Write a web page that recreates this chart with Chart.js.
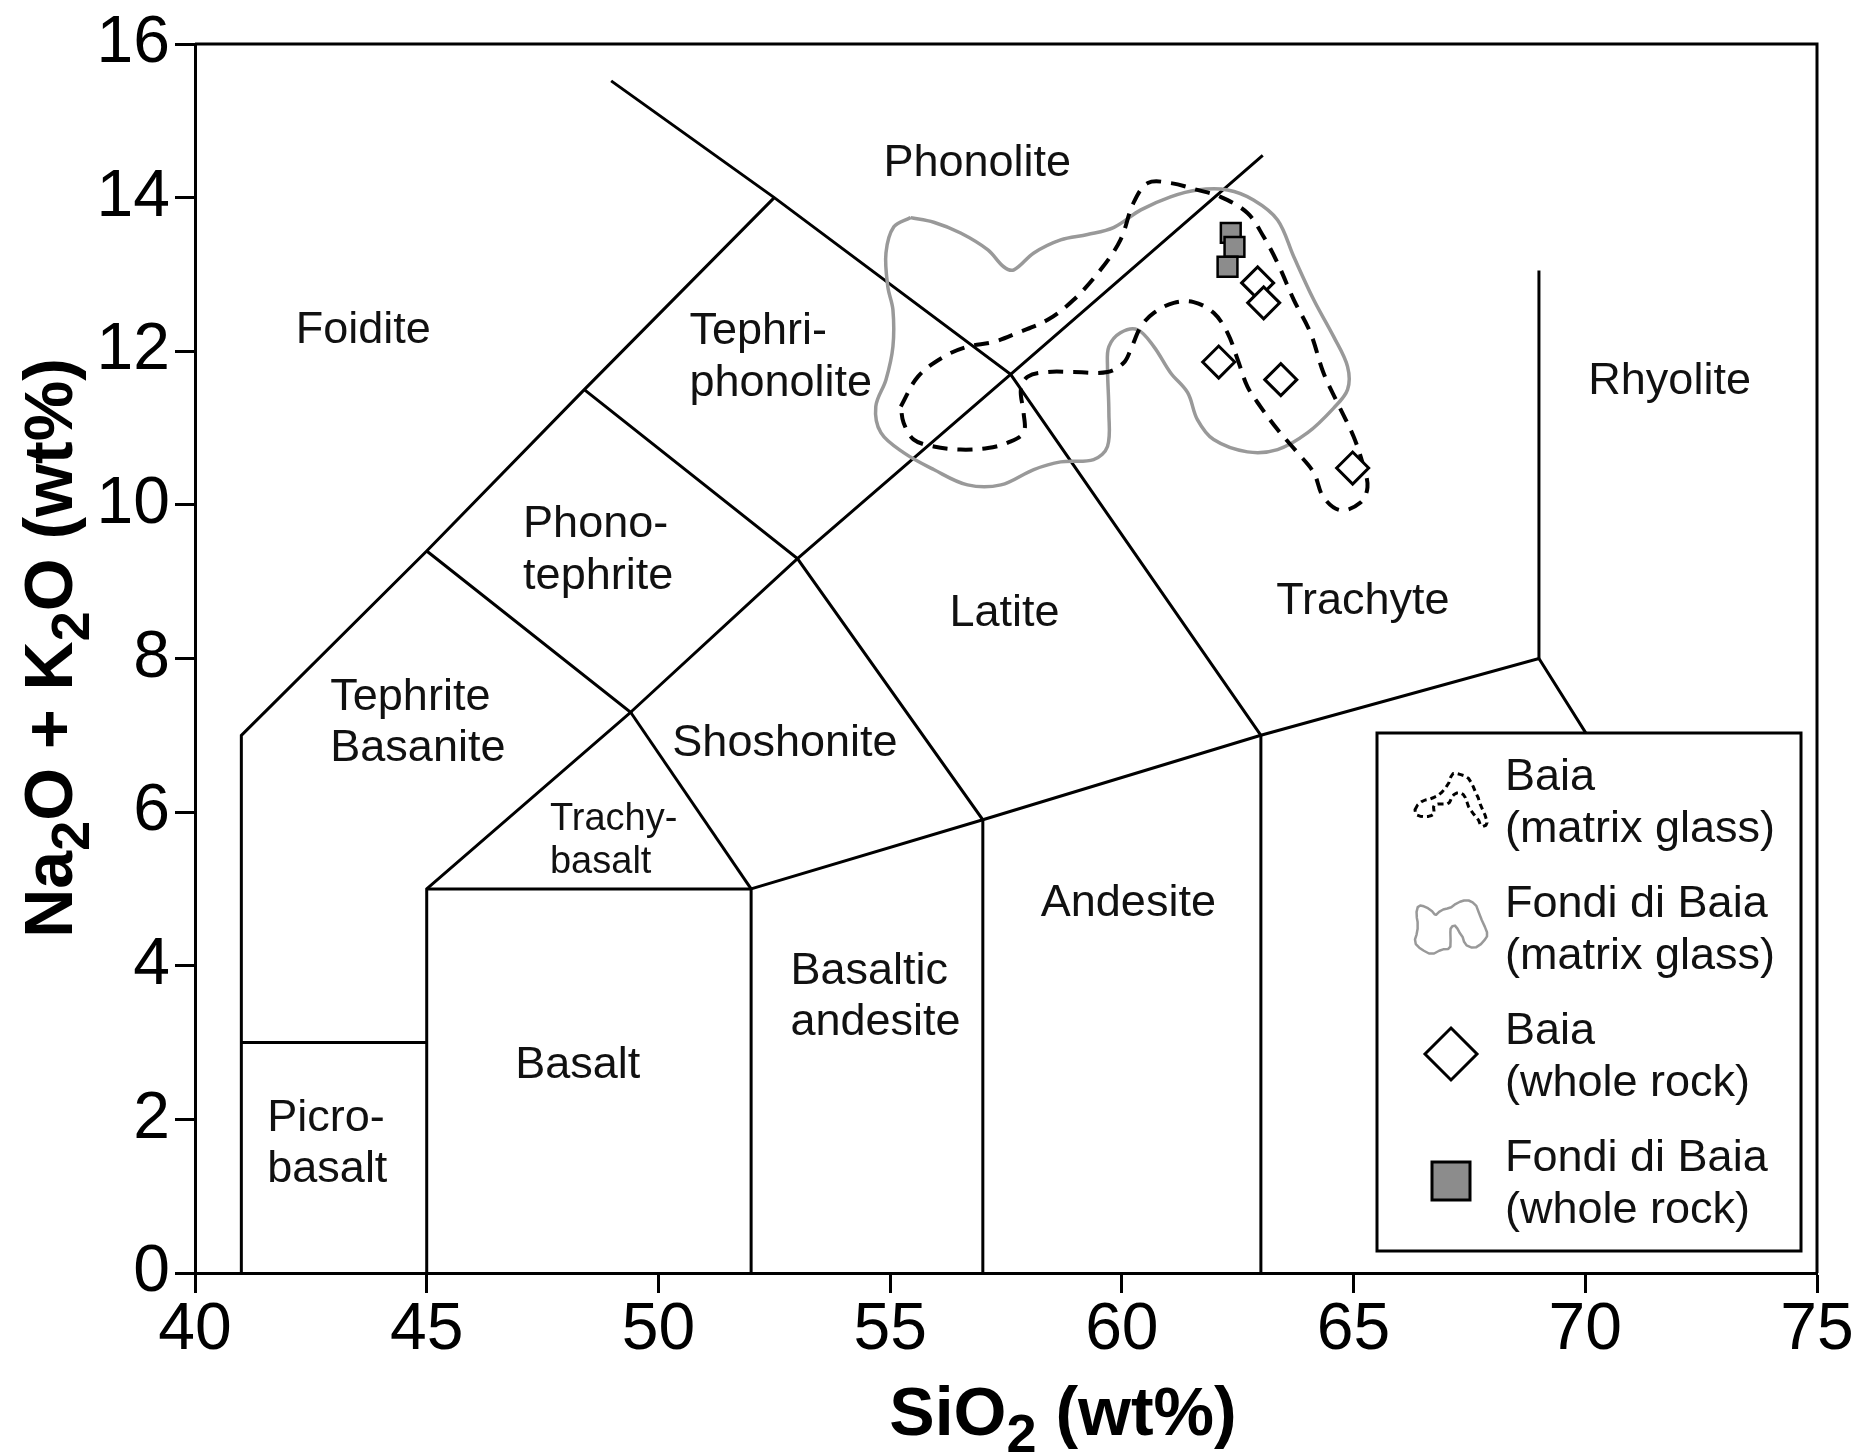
<!DOCTYPE html>
<html>
<head>
<meta charset="utf-8">
<title>TAS diagram - Baia / Fondi di Baia</title>
<script src="https://cdn.jsdelivr.net/npm/chart.js@4.4.1/dist/chart.umd.min.js"></script>
<style>
   body { margin: 0; background: #fff; }
   canvas { display: block; }
</style>
</head>
<body>
<canvas id="tas-chart" width="1864" height="1454"></canvas>
<script>
const xTickValues = [40, 45, 50, 55, 60, 65, 70, 75];
const yTickValues = [0, 2, 4, 6, 8, 10, 12, 14, 16];

// TAS field boundaries (SiO2, Na2O + K2O)
const boundaryLines = [
   [[41, 0], [41, 7], [45, 9.4], [48.4, 11.5], [52.5, 14]],
   [[48.98, 15.52], [52.5, 14], [57.6, 11.7], [63, 7]],
   [[41, 3], [45, 3]],
   [[45, 0], [45, 5], [49.4, 7.3], [45, 9.4]],
   [[48.4, 11.5], [53, 9.3], [57, 5.9], [57, 0]],
   [[49.4, 7.3], [53, 9.3], [57.6, 11.7], [63.04, 14.55]],
   [[49.4, 7.3], [52, 5]],
   [[45, 5], [52, 5], [52, 0]],
   [[52, 5], [57, 5.9], [63, 7], [69, 8], [70.2, 6.85]],
   [[63, 0], [63, 7]],
   [[69, 8], [69, 13.05]],
];

// Baia matrix glass field (dashed outline)
const baiaGlassOutline = [
   [55.23, 11.28], [55.6, 11.67], [56.16, 11.93], [56.67, 12.06], [57.23, 12.12],
   [57.75, 12.24], [58.4, 12.41], [58.96, 12.67], [59.54, 13.06], [59.97, 13.45],
   [60.25, 13.93], [60.56, 14.19], [61.05, 14.19], [61.63, 14.1], [62.13, 14.01],
   [62.71, 13.8], [63.06, 13.49], [63.36, 13.15], [63.71, 12.67], [64.07, 12.24],
   [64.35, 11.72], [64.65, 11.33], [65.0, 10.89], [65.22, 10.49], [65.3, 10.23],
   [65.15, 10.03], [64.72, 9.93], [64.35, 10.1], [64.14, 10.42], [63.79, 10.68],
   [63.36, 10.98], [62.99, 11.28], [62.71, 11.54], [62.5, 11.89], [62.28, 12.24],
   [61.98, 12.5], [61.55, 12.64], [61.12, 12.63], [60.69, 12.5], [60.41, 12.32],
   [60.19, 12.02], [60.04, 11.85], [59.69, 11.73], [58.96, 11.73], [58.4, 11.73],
   [57.97, 11.67], [57.82, 11.5], [57.88, 11.2], [57.88, 10.94], [57.54, 10.81],
   [57.11, 10.74], [56.52, 10.72], [55.94, 10.76], [55.51, 10.85], [55.29, 11.07],
   [55.23, 11.28],
];

// Fondi di Baia matrix glass field (grey outline)
const fondiGlassOutline = [
   [55.44, 13.74], [55.08, 13.62], [54.91, 13.28], [54.95, 12.84], [55.06, 12.54],
   [55.06, 12.06], [54.91, 11.63], [54.69, 11.28], [54.8, 10.94], [55.29, 10.68],
   [55.94, 10.46], [56.67, 10.26], [57.39, 10.26], [58.1, 10.46], [58.68, 10.56],
   [59.39, 10.59], [59.69, 10.76], [59.72, 11.2], [59.69, 11.8], [59.72, 12.06],
   [59.97, 12.24], [60.34, 12.28], [60.69, 12.06], [61.05, 11.72], [61.42, 11.46],
   [61.63, 11.11], [61.98, 10.85], [62.71, 10.69], [63.36, 10.72], [64.01, 10.94],
   [64.57, 11.26], [64.87, 11.5], [64.87, 11.8], [64.57, 12.19], [64.14, 12.67],
   [63.71, 13.23], [63.36, 13.71], [62.84, 13.97], [62.28, 14.1], [61.63, 14.1],
   [61.05, 14.01], [60.41, 13.84], [59.82, 13.61], [59.26, 13.52], [58.68, 13.45],
   [58.1, 13.28], [57.67, 13.06], [57.45, 13.1], [57.11, 13.32], [56.52, 13.54],
   [55.94, 13.68], [55.44, 13.74],
];

const baiaRockSiO2 = [62.93, 63.06, 62.09, 63.43, 64.98];
const baiaRockAlkali = [12.89, 12.63, 11.86, 11.63, 10.48];

const fondiRockSiO2 = [62.35, 62.43, 62.28];
const fondiRockAlkali = [13.54, 13.36, 13.1];

const fieldLabels = [
   { text: "Foidite", x: 43.63, y: 12.32 },
   { text: "Phonolite", x: 56.88, y: 14.49 },
   { text: "Tephri-", x: 50.67, y: 12.3, align: "left" },
   { text: "phonolite", x: 50.67, y: 11.63, align: "left" },
   { text: "Phono-", x: 47.08, y: 9.79, align: "left" },
   { text: "tephrite", x: 47.08, y: 9.11, align: "left" },
   { text: "Tephrite", x: 42.92, y: 7.54, align: "left" },
   { text: "Basanite", x: 42.92, y: 6.88, align: "left" },
   { text: "Shoshonite", x: 52.73, y: 6.94 },
   { text: "Latite", x: 57.47, y: 8.63 },
   { text: "Trachyte", x: 65.2, y: 8.79 },
   { text: "Rhyolite", x: 71.82, y: 11.65 },
   { text: "Trachy-", x: 47.66, y: 5.94, align: "left", small: true },
   { text: "basalt", x: 47.66, y: 5.39, align: "left", small: true },
   { text: "Andesite", x: 60.14, y: 4.86 },
   { text: "Basaltic", x: 52.85, y: 3.97, align: "left" },
   { text: "andesite", x: 52.85, y: 3.31, align: "left" },
   { text: "Basalt", x: 48.26, y: 2.75 },
   { text: "Picro-", x: 41.56, y: 2.06, align: "left" },
   { text: "basalt", x: 41.56, y: 1.39, align: "left" },
];

const legendOrder = [
   "Baia (matrix glass)",
   "Fondi di Baia (matrix glass)",
   "Baia (whole rock)",
   "Fondi di Baia (whole rock)",
];

const FONT = '"Liberation Sans", Arial, Helvetica, sans-serif';

function toPoints(pairs) {
   return pairs.map(([x, y]) => ({ x, y }));
}

function zipPoints(xs, ys) {
   return xs.map((x, i) => ({ x, y: ys[i] }));
}

function drawFormula(ctx, parts, cx, baseline) {
   const mainFont = `bold 68px ${FONT}`;
   const subFont = `bold 54px ${FONT}`;
   let total = 0;
   for (const [text, isSub] of parts) {
      ctx.font = isSub ? subFont : mainFont;
      total += ctx.measureText(text).width;
   }
   let x = cx - total / 2;
   ctx.textAlign = "left";
   ctx.textBaseline = "alphabetic";
   for (const [text, isSub] of parts) {
      ctx.font = isSub ? subFont : mainFont;
      ctx.fillText(text, x, baseline + (isSub ? 17 : 0));
      x += ctx.measureText(text).width;
   }
}

// small copy of an outline, squeezed into the legend icon box
function drawOutlineIcon(ctx, chart, dataset, cx, cy, w, h) {
   const { x: xs, y: ys } = chart.scales;
   const px = dataset.data.map((p) => [xs.getPixelForValue(p.x), ys.getPixelForValue(p.y)]);
   const minX = Math.min(...px.map((p) => p[0]));
   const maxX = Math.max(...px.map((p) => p[0]));
   const minY = Math.min(...px.map((p) => p[1]));
   const maxY = Math.max(...px.map((p) => p[1]));
   ctx.save();
   ctx.beginPath();
   px.forEach(([x, y], i) => {
      const ix = cx - w / 2 + ((x - minX) / (maxX - minX)) * w;
      const iy = cy - h / 2 + ((y - minY) / (maxY - minY)) * h;
      if (i === 0) ctx.moveTo(ix, iy);
      else ctx.lineTo(ix, iy);
   });
   ctx.closePath();
   ctx.strokeStyle = dataset.borderColor;
   ctx.lineWidth = dataset.borderDash ? 3 : 2.5;
   ctx.setLineDash(dataset.borderDash ? [6, 4] : []);
   ctx.lineJoin = "round";
   ctx.stroke();
   ctx.restore();
}

function drawMarkerIcon(ctx, dataset, cx, cy) {
   ctx.save();
   ctx.beginPath();
   if (dataset.pointStyle === "rectRot") {
      const r = 26;
      ctx.moveTo(cx, cy - r);
      ctx.lineTo(cx + r, cy);
      ctx.lineTo(cx, cy + r);
      ctx.lineTo(cx - r, cy);
   } else {
      const s = 19;
      ctx.rect(cx - s, cy - s, 2 * s, 2 * s);
   }
   ctx.closePath();
   ctx.fillStyle = dataset.backgroundColor;
   ctx.fill();
   ctx.lineWidth = 3;
   ctx.strokeStyle = "#000";
   ctx.stroke();
   ctx.restore();
}

const tasDecorPlugin = {
   id: "tasDecor",
   afterDatasetsDraw(chart) {
      const { ctx, chartArea, scales } = chart;

      // field names
      ctx.save();
      ctx.fillStyle = "#111";
      ctx.textBaseline = "alphabetic";
      for (const label of fieldLabels) {
         const size = label.small ? 38 : 45;
         ctx.font = `${size}px ${FONT}`;
         ctx.textAlign = label.align || "center";
         ctx.fillText(
            label.text,
            scales.x.getPixelForValue(label.x),
            scales.y.getPixelForValue(label.y) + 0.358 * size
         );
      }
      ctx.restore();

      // legend box
      const box = { left: 1377, top: 733, right: 1801, bottom: 1251 };
      ctx.save();
      ctx.fillStyle = "#fff";
      ctx.fillRect(box.left, box.top, box.right - box.left, box.bottom - box.top);
      ctx.lineWidth = 3;
      ctx.strokeStyle = "#000";
      ctx.strokeRect(box.left, box.top, box.right - box.left, box.bottom - box.top);

      const datasets = chart.data.datasets;
      legendOrder.forEach((name, i) => {
         const dataset = datasets.find((d) => d.label === name);
         const baseline = box.top + 57 + i * 127;
         const iconX = box.left + 74;
         const iconY = baseline + 10;
         if (dataset.showLine) {
            drawOutlineIcon(ctx, chart, dataset, iconX, iconY, 72, 53);
         } else {
            drawMarkerIcon(ctx, dataset, iconX, iconY);
         }
         const cut = name.indexOf(" (");
         ctx.fillStyle = "#111";
         ctx.font = `45px ${FONT}`;
         ctx.textAlign = "left";
         ctx.textBaseline = "alphabetic";
         ctx.fillText(name.slice(0, cut), box.left + 128, baseline);
         ctx.fillText(name.slice(cut + 1), box.left + 128, baseline + 52);
      });
      ctx.restore();

      // top and right frame
      ctx.save();
      ctx.strokeStyle = "#000";
      ctx.lineWidth = 3;
      ctx.beginPath();
      ctx.moveTo(chartArea.left, chartArea.top);
      ctx.lineTo(chartArea.right, chartArea.top);
      ctx.lineTo(chartArea.right, chartArea.bottom);
      ctx.stroke();
      ctx.restore();
   },
   afterDraw(chart) {
      const { ctx } = chart;
      ctx.save();
      ctx.fillStyle = "#000";
      drawFormula(ctx, [["SiO", false], ["2", true], [" (wt%)", false]], 1063, 1435);
      ctx.translate(72, 648);
      ctx.rotate(-Math.PI / 2);
      drawFormula(
         ctx,
         [["Na", false], ["2", true], ["O + K", false], ["2", true], ["O (wt%)", false]],
         0,
         0
      );
      ctx.restore();
   },
};

const tickFont = { family: FONT, size: 66, lineHeight: 1 };

const chartDatasets = [
   {
      label: "Fondi di Baia (whole rock)",
      data: zipPoints(fondiRockSiO2, fondiRockAlkali),
      pointStyle: "rect",
      pointRadius: 14,
      backgroundColor: "#8c8c8c",
      borderColor: "#000",
      borderWidth: 2.5,
      order: 0,
   },
   {
      label: "Baia (whole rock)",
      data: zipPoints(baiaRockSiO2, baiaRockAlkali),
      pointStyle: "rectRot",
      pointRadius: 16,
      backgroundColor: "#fff",
      borderColor: "#000",
      borderWidth: 3,
      order: 1,
   },
   {
      label: "Baia (matrix glass)",
      data: toPoints(baiaGlassOutline),
      showLine: true,
      tension: 0.35,
      pointRadius: 0,
      borderColor: "#000",
      borderWidth: 4,
      borderDash: [15, 10],
      order: 2,
   },
   {
      label: "Fondi di Baia (matrix glass)",
      data: toPoints(fondiGlassOutline),
      showLine: true,
      tension: 0.35,
      pointRadius: 0,
      borderColor: "#999",
      borderWidth: 3.5,
      order: 3,
   },
   ...boundaryLines.map((line) => ({
      label: "",
      data: toPoints(line),
      showLine: true,
      tension: 0,
      pointRadius: 0,
      borderColor: "#000",
      borderWidth: 3,
      order: 4,
   })),
];

new Chart(document.getElementById("tas-chart"), {
   type: "scatter",
   data: { datasets: chartDatasets },
   options: {
      responsive: false,
      animation: false,
      events: [],
      layout: { padding: { top: 44, right: 47, left: 0, bottom: 0 } },
      plugins: {
         legend: { display: false },
         tooltip: { enabled: false },
      },
      scales: {
         x: {
            type: "linear",
            min: 40,
            max: 75,
            afterBuildTicks: (scale) => {
               scale.ticks = xTickValues.map((value) => ({ value }));
            },
            afterFit: (scale) => {
               scale.height = 181;
            },
            ticks: { font: tickFont, color: "#000", padding: 5, autoSkip: false, maxRotation: 0 },
            grid: { drawOnChartArea: false, drawTicks: true, tickLength: 20, tickWidth: 3, tickColor: "#000" },
            border: { display: true, color: "#000", width: 3 },
         },
         y: {
            type: "linear",
            min: 0,
            max: 16,
            afterBuildTicks: (scale) => {
               scale.ticks = yTickValues.map((value) => ({ value }));
            },
            afterFit: (scale) => {
               scale.width = 195;
            },
            ticks: { font: tickFont, color: "#000", padding: 5, autoSkip: false },
            grid: { drawOnChartArea: false, drawTicks: true, tickLength: 20, tickWidth: 3, tickColor: "#000" },
            border: { display: true, color: "#000", width: 3 },
         },
      },
   },
   plugins: [tasDecorPlugin],
});
</script>
</body>
</html>
